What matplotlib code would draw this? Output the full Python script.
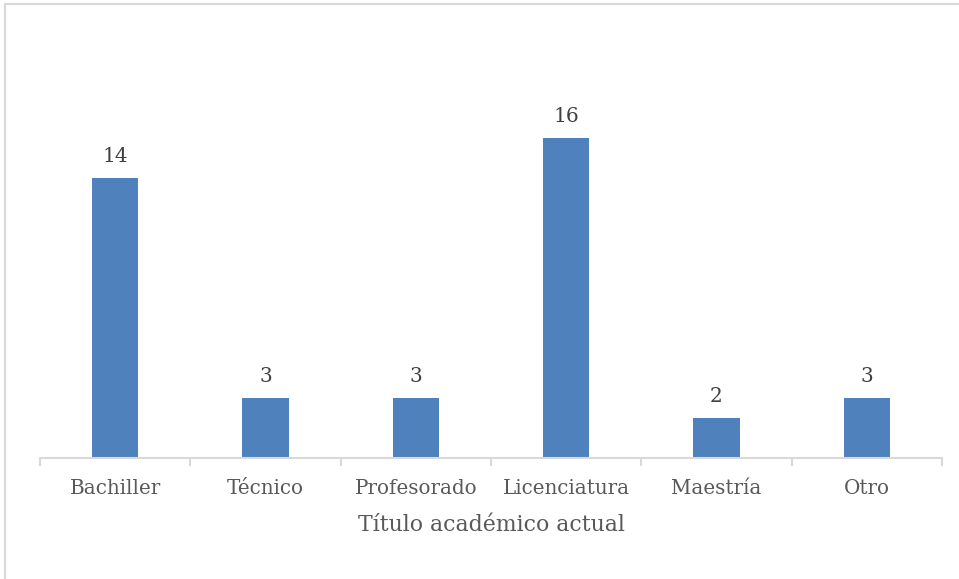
import matplotlib
matplotlib.use("Agg")
import matplotlib.pyplot as plt
from matplotlib.patches import Rectangle

categories = ["Bachiller", "Técnico", "Profesorado", "Licenciatura", "Maestría", "Otro"]
values = [14, 3, 3, 16, 2, 3]
x_title = "Título académico actual"

W, H = 959, 579
fig = plt.figure(figsize=(W / 100, H / 100), dpi=100)
plt.rcParams['font.family'] = ['DejaVu Serif']

# outer chart border
fig.patches.append(Rectangle((4.5 / W, -0.1), 1.2, 1 - 4.5 / H + 0.1, transform=fig.transFigure,
                             fill=False, edgecolor="#D9D9D9", linewidth=1.5))

left, right, bottom, top = 40, 942, 458, 58
ax = fig.add_axes([left / W, 1 - bottom / H, (right - left) / W, (bottom - top) / H])

xs = list(range(len(categories)))
bars = ax.bar(xs, values, width=0.31, color="#4F81BD", zorder=2)
for xi, v in zip(xs, values):
    ax.annotate(str(v), (xi, v), xytext=(0, 11.5), textcoords="offset points",
                ha="center", va="baseline", fontsize=14.5, color="#404040")

ax.set_xlim(-0.5, len(categories) - 0.5)
ax.set_ylim(0, 20)
for s in ["top", "right", "left"]:
    ax.spines[s].set_visible(False)
ax.spines["bottom"].set_color("#D9D9D9")
ax.spines["bottom"].set_linewidth(1.5)
ax.set_yticks([])
ax.set_xticks(xs)
ax.set_xticklabels(categories, fontsize=14.3, color="#595959")
ax.tick_params(axis="x", which="major", length=0, pad=15)
ax.set_xticks([i - 0.5 for i in range(len(categories) + 1)], minor=True)
ax.tick_params(axis="x", which="minor", length=5.5, width=1.5, color="#D9D9D9", direction="out")

ax.set_xlabel(x_title, fontsize=15.8, color="#595959", va="center")
ax.xaxis.set_label_coords(0.5, -67 / 400)

fig.savefig("out.png", dpi=100)
